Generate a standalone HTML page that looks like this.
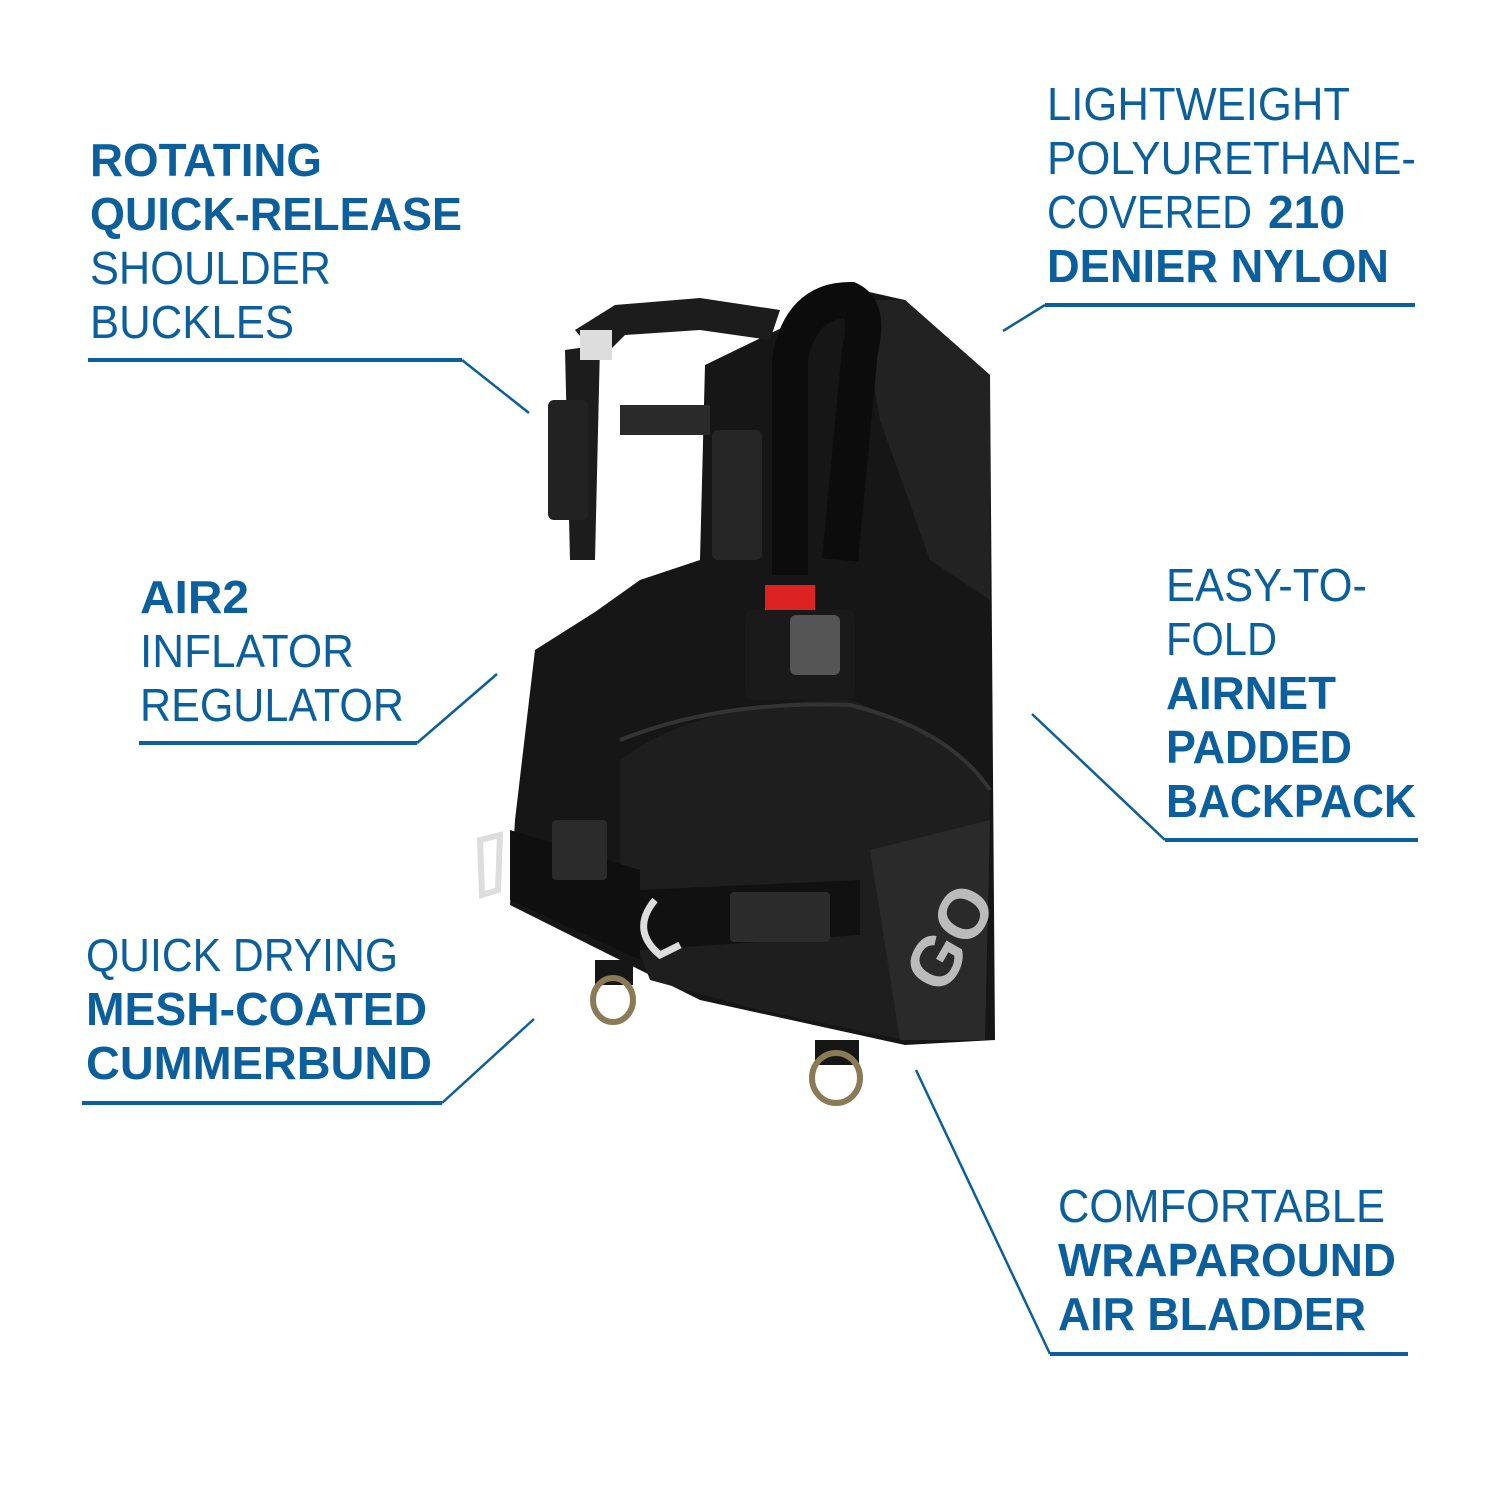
<!DOCTYPE html>
<html><head><meta charset="utf-8"><style>html,body{margin:0;padding:0;background:#fff}svg{display:block}</style></head>
<body>
<svg width="1500" height="1500" viewBox="0 0 1500 1500" xmlns="http://www.w3.org/2000/svg">
<g font-family="Liberation Sans, sans-serif" font-size="46" fill="#0a5f9c">
<g>
<path d="M705 365 L860 290 L905 300 L990 375 L995 1040 L905 1045 L700 1000 L620 960 L560 930 L510 905 L515 820 L535 650 L595 612 L640 580 L700 560 Z" fill="#161616"/>
<path d="M860 300 L905 300 L990 375 L990 600 L930 560 L880 420 Z" fill="#222"/>
<path d="M620 760 Q700 700 850 700 Q960 740 990 790 L985 1040 L905 1040 L760 1010 L650 980 L620 900 Z" fill="#1e1e1e"/>
<path d="M620 740 Q720 700 850 705 Q950 730 990 790" stroke="#333" stroke-width="4" fill="none"/>
<path d="M870 850 L990 820 L985 1040 L900 1040 Z" fill="#2a2a2a"/>
<text x="905" y="990" font-size="70" fill="#bbb" transform="rotate(-60 930 960)" font-weight="bold">GO</text>
<path d="M510 830 L640 870 L640 960 L510 900 Z" fill="#0f0f0f"/>
<path d="M640 890 L860 880 L860 935 L640 950 Z" fill="#111"/>
<rect x="730" y="892" width="100" height="50" rx="4" fill="#2b2b2b"/>
<rect x="552" y="820" width="55" height="60" rx="4" fill="#2b2b2b"/>
<!-- shoulder harness -->
<path d="M575 330 L615 305 L700 298 L780 310 L770 340 L700 330 L625 335 L600 360 Z" fill="#1c1c1c"/>
<path d="M565 350 L600 345 L595 560 L570 560 Z" fill="#1c1c1c"/>
<rect x="580" y="330" width="32" height="30" fill="#ddd"/>
<rect x="548" y="400" width="40" height="120" rx="6" fill="#222"/>
<rect x="712" y="430" width="50" height="130" rx="6" fill="#262626"/>
<rect x="620" y="405" width="90" height="30" fill="#2a2a2a"/>
<!-- hose -->
<path d="M790 575 L790 360 Q800 300 850 300 Q870 310 860 350 L840 560" stroke="#0c0c0c" stroke-width="36" fill="none"/>
<rect x="765" y="585" width="50" height="30" fill="#d22"/>
<rect x="745" y="610" width="110" height="90" rx="8" fill="#1a1a1a"/>
<rect x="790" y="615" width="50" height="60" rx="6" fill="#555"/>
<!-- D rings -->
<path d="M480 840 L500 835 L498 890 L482 895 Z" fill="none" stroke="#ddd" stroke-width="6"/>
<path d="M655 900 Q630 930 660 955 L680 945" fill="none" stroke="#ddd" stroke-width="7"/>
<rect x="595" y="960" width="38" height="25" fill="#161616"/>
<rect x="815" y="1040" width="44" height="25" fill="#161616"/>
<ellipse cx="613" cy="1000" rx="20" ry="22" fill="none" stroke="#8a7a55" stroke-width="6"/>
<ellipse cx="836" cy="1078" rx="24" ry="25" fill="none" stroke="#8a7a55" stroke-width="6"/>
</g>
<g stroke="#0a5f9c" fill="none">
<path d="M88 360 H462" stroke-width="4"/><path d="M462 360 L529 413" stroke-width="2.5"/>
<path d="M1045 305 H1415" stroke-width="4"/><path d="M1045 305 L1003 331" stroke-width="2.5"/>
<path d="M139 743 H417" stroke-width="4"/><path d="M417 743 L497 674" stroke-width="2.5"/>
<path d="M1165 840 H1418" stroke-width="4"/><path d="M1165 840 L1032 714" stroke-width="2.5"/>
<path d="M82 1103 H442" stroke-width="4"/><path d="M442 1103 L534 1019" stroke-width="2.5"/>
<path d="M1050 1354 H1408" stroke-width="4"/><path d="M1050 1354 L916 1070" stroke-width="2.5"/>
</g>
<g>
<text x="90" y="176" font-weight="bold" textLength="232" lengthAdjust="spacingAndGlyphs">ROTATING</text>
<text x="90" y="230" font-weight="bold" textLength="372" lengthAdjust="spacingAndGlyphs">QUICK-RELEASE</text>
<text x="90" y="284" textLength="241" lengthAdjust="spacingAndGlyphs">SHOULDER</text>
<text x="90" y="338" textLength="204" lengthAdjust="spacingAndGlyphs">BUCKLES</text>

<text x="1047" y="120" textLength="303" lengthAdjust="spacingAndGlyphs">LIGHTWEIGHT</text>
<text x="1047" y="174" textLength="369" lengthAdjust="spacingAndGlyphs">POLYURETHANE-</text>
<text x="1047" y="228" textLength="205" lengthAdjust="spacingAndGlyphs">COVERED</text>
<text x="1268" y="228" font-weight="bold" textLength="77" lengthAdjust="spacingAndGlyphs">210</text>
<text x="1047" y="282" font-weight="bold" textLength="342" lengthAdjust="spacingAndGlyphs">DENIER NYLON</text>

<text x="140" y="613" font-weight="bold" textLength="109" lengthAdjust="spacingAndGlyphs">AIR2</text>
<text x="140" y="667" textLength="214" lengthAdjust="spacingAndGlyphs">INFLATOR</text>
<text x="140" y="721" textLength="264" lengthAdjust="spacingAndGlyphs">REGULATOR</text>

<text x="1166" y="601" textLength="201" lengthAdjust="spacingAndGlyphs">EASY-TO-</text>
<text x="1166" y="655" textLength="111" lengthAdjust="spacingAndGlyphs">FOLD</text>
<text x="1166" y="709" font-weight="bold" textLength="170" lengthAdjust="spacingAndGlyphs">AIRNET</text>
<text x="1166" y="763" font-weight="bold" textLength="186" lengthAdjust="spacingAndGlyphs">PADDED</text>
<text x="1166" y="817" font-weight="bold" textLength="250" lengthAdjust="spacingAndGlyphs">BACKPACK</text>

<text x="86" y="971" textLength="312" lengthAdjust="spacingAndGlyphs">QUICK DRYING</text>
<text x="86" y="1025" font-weight="bold" textLength="341" lengthAdjust="spacingAndGlyphs">MESH-COATED</text>
<text x="86" y="1079" font-weight="bold" textLength="346" lengthAdjust="spacingAndGlyphs">CUMMERBUND</text>

<text x="1058" y="1222" textLength="327" lengthAdjust="spacingAndGlyphs">COMFORTABLE</text>
<text x="1058" y="1276" font-weight="bold" textLength="338" lengthAdjust="spacingAndGlyphs">WRAPAROUND</text>
<text x="1058" y="1330" font-weight="bold" textLength="308" lengthAdjust="spacingAndGlyphs">AIR BLADDER</text>
</g>
</g>
</svg>
</body></html>
